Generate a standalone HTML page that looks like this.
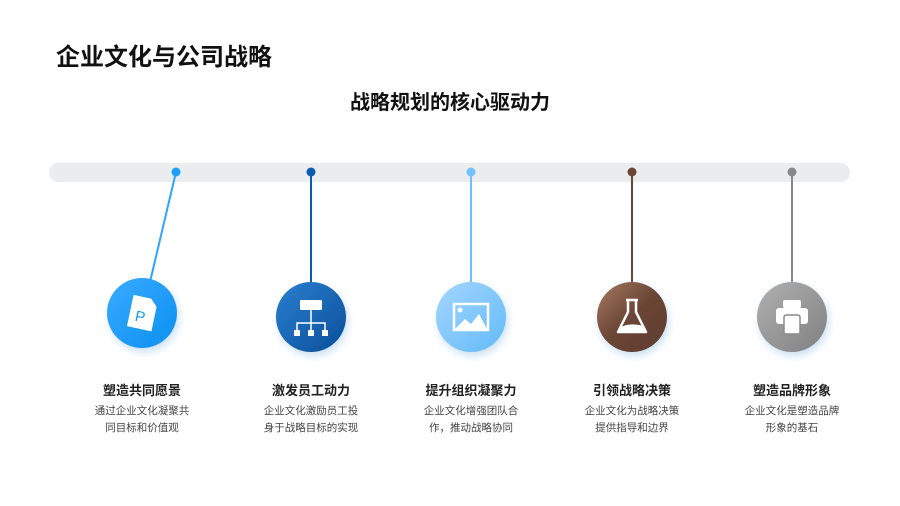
<!DOCTYPE html>
<html><head><meta charset="utf-8"><style>
body{margin:0;width:900px;height:506px;background:#fff;position:relative;overflow:hidden;font-family:"Liberation Sans","Noto Sans CJK SC",sans-serif;}
.t{position:absolute;white-space:nowrap;}
.h{font-weight:bold;font-size:13px;color:#222;width:140px;text-align:center;}
.d{font-size:10.5px;color:#444;width:140px;text-align:center;line-height:17px;}
</style></head><body>
<div class="t" style="left:56px;top:37px;font-size:24px;font-weight:bold;color:#111;">企业文化与公司战略</div>
<div class="t" style="left:0;width:900px;text-align:center;top:86px;font-size:20px;font-weight:bold;color:#111;">战略规划的核心驱动力</div>
<svg width="900" height="506" style="position:absolute;left:0;top:0">
<defs>
<linearGradient id="g1" x1="0" y1="0" x2="1" y2="1"><stop offset="0" stop-color="#3aaaff"/><stop offset="1" stop-color="#0a90f0"/></linearGradient>
<linearGradient id="g2" x1="0" y1="0" x2="1" y2="1"><stop offset="0" stop-color="#2a7fd0"/><stop offset="1" stop-color="#0a4f9a"/></linearGradient>
<linearGradient id="g3" x1="0" y1="0" x2="1" y2="1"><stop offset="0" stop-color="#a4d6ff"/><stop offset="1" stop-color="#62baf8"/></linearGradient>
<linearGradient id="g4" x1="0" y1="0" x2="1" y2="1"><stop offset="0" stop-color="#a57a62"/><stop offset="0.5" stop-color="#6a4534"/><stop offset="1" stop-color="#5e3c2e"/></linearGradient>
<linearGradient id="g5" x1="0" y1="0" x2="1" y2="1"><stop offset="0" stop-color="#b0b0b0"/><stop offset="1" stop-color="#808080"/></linearGradient>
<filter id="sh" x="-50%" y="-50%" width="200%" height="200%"><feDropShadow dx="2" dy="4" stdDeviation="4" flood-color="#6aa8e0" flood-opacity="0.35"/></filter>
</defs>
<rect x="49" y="163" width="801" height="19" rx="9.5" fill="#ebecee"/>
<line x1="176" y1="172" x2="150" y2="282" stroke="#2ea4ff" stroke-width="2"/>
<line x1="311" y1="172" x2="311" y2="284" stroke="#0b5bb0" stroke-width="2"/>
<line x1="471" y1="172" x2="471" y2="284" stroke="#6fc0fb" stroke-width="2"/>
<line x1="632" y1="172" x2="632" y2="284" stroke="#6b4636" stroke-width="2"/>
<line x1="792" y1="172" x2="792" y2="284" stroke="#888" stroke-width="2"/>
<circle cx="176" cy="172" r="4.5" fill="#1fa0ff"/>
<circle cx="311" cy="172" r="4.5" fill="#0b5bb0"/>
<circle cx="471" cy="172" r="4.5" fill="#72c2fb"/>
<circle cx="632" cy="172" r="4.5" fill="#6b4636"/>
<circle cx="792" cy="172" r="4.5" fill="#888"/>
<circle cx="142" cy="313" r="35" fill="url(#g1)" filter="url(#sh)"/>
<circle cx="311" cy="317" r="35" fill="url(#g2)" filter="url(#sh)"/>
<circle cx="471" cy="317" r="35" fill="url(#g3)" filter="url(#sh)"/>
<circle cx="632" cy="317" r="35" fill="url(#g4)" filter="url(#sh)"/>
<circle cx="792" cy="317" r="35" fill="url(#g5)" filter="url(#sh)"/>
<g transform="rotate(12 142 313)"><path d="M130 297 h18 l7 7 v25 h-25z" fill="#fff"/><text x="136" y="322" font-size="15" fill="#1a9af5" font-family="Liberation Sans">P</text></g>
<g fill="#fff"><rect x="300" y="300" width="22" height="10" rx="1"/><rect x="294" y="330" width="6" height="6"/><rect x="308" y="330" width="6" height="6"/><rect x="322" y="330" width="6" height="6"/></g>
<path d="M311 310v13M297 330v-7h28v7M311 323v7" stroke="#fff" stroke-width="1.5" fill="none"/>
<rect x="454" y="304" width="34" height="26" fill="none" stroke="#fff" stroke-width="2.5"/>
<circle cx="460" cy="310" r="2.5" fill="#fff"/>
<path d="M455 329 l10-10 6 5 8-10 8 15z" fill="#fff"/>
<path d="M626 300h12M628 300v12l-10 20h28l-10-20v-12" stroke="#fff" stroke-width="2.5" fill="none" stroke-linejoin="round"/>
<path d="M620 328 q8-6 24-2 l2 6h-28z" fill="#fff"/>
<g fill="#fff"><rect x="783" y="300" width="18" height="8" rx="2"/><rect x="776" y="308" width="32" height="16" rx="3"/><rect x="784" y="315" width="16" height="19" rx="2" stroke="#8c8c8c" stroke-width="1.5"/></g>
</svg>
<div class="t h" style="left:72px;top:380px;">塑造共同愿景</div>
<div class="t d" style="left:72px;top:403px;">通过企业文化凝聚共<br>同目标和价值观</div>
<div class="t h" style="left:241px;top:380px;">激发员工动力</div>
<div class="t d" style="left:241px;top:403px;">企业文化激励员工投<br>身于战略目标的实现</div>
<div class="t h" style="left:401px;top:380px;">提升组织凝聚力</div>
<div class="t d" style="left:401px;top:403px;">企业文化增强团队合<br>作，推动战略协同</div>
<div class="t h" style="left:562px;top:380px;">引领战略决策</div>
<div class="t d" style="left:562px;top:403px;">企业文化为战略决策<br>提供指导和边界</div>
<div class="t h" style="left:722px;top:380px;">塑造品牌形象</div>
<div class="t d" style="left:722px;top:403px;">企业文化是塑造品牌<br>形象的基石</div>
</body></html>
